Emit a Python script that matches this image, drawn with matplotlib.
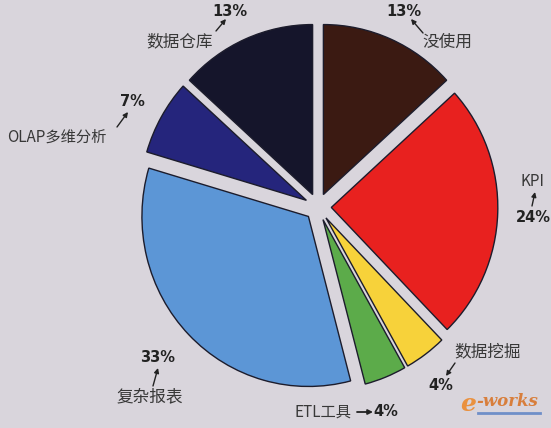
import matplotlib
matplotlib.use("Agg")
import matplotlib.pyplot as plt

plt.rcParams['font.family'] = ['Noto Sans CJK SC', 'DejaVu Sans']

# data
labels = ["没使用", "KPI", "数据挖掘", "ETL工具", "复杂报表", "OLAP多维分析", "数据仓库"]
shares = [13, 24, 4, 4, 33, 7, 13]
colors = ["#3b1a12", "#e8211f", "#f7d23a", "#5cab4a", "#5c96d6", "#25257c", "#15152b"]

W, H = 551, 428
cx, cy = 318, 207          # pie centre in pixels (from top-left)
sx, sy = 166.5, 170.0      # pixels per unit radius


def px(x, y):
    return (x - cx) / sx, (cy - y) / sy


fig = plt.figure(figsize=(W / 100, H / 100), dpi=100)
fig.patch.set_facecolor("#d9d5dc")
ax = fig.add_axes([0, 0, 1, 1])
ax.set_facecolor("#d9d5dc")

wedges, _ = ax.pie(shares, colors=colors, startangle=90, counterclock=False,
                   explode=[0.08] * len(shares),
                   wedgeprops=dict(edgecolor="#1c1c2c", linewidth=1.0))
ax.set_aspect("auto")
ax.set_xlim(-cx / sx, (W - cx) / sx)
ax.set_ylim(-(H - cy) / sy, cy / sy)
ax.axis("off")

tc = "#383838"
# (name text pos, pct text pos, arrow tail, arrow head) in pixels
layout = {
    "没使用": ((447, 42), (404, 12), (423, 33), (411, 19)),
    "KPI": ((533, 182), (533, 217), (532, 206), (535, 192)),
    "数据挖掘": ((488, 352), (441, 385), (455, 363), (446, 376)),
    "复杂报表": ((150, 397), (158, 357), (153, 386), (158, 368)),
    "OLAP多维分析": ((57, 137), (132, 102), (117, 127), (128, 112)),
    "数据仓库": ((180, 42), (230, 12), (216, 31), (226, 19)),
}

for name, val in zip(labels, shares):
    if name not in layout:
        continue
    tpos, ppos, tail, head = layout[name]
    fs = 11 if name in ("KPI", "OLAP多维分析") else 12
    ax.text(*px(*tpos), name, ha="center", va="center", fontsize=fs, color=tc)
    ax.text(*px(*ppos), f"{val}%", ha="center", va="center", fontsize=10.5,
            fontweight="bold", color="#222222", family="DejaVu Sans")
    ax.annotate("", xy=px(*head), xytext=px(*tail),
                arrowprops=dict(arrowstyle="-|>", color="#222222", lw=1.0,
                                mutation_scale=7, shrinkA=0, shrinkB=0))

# ETL label on one line with arrow
etl_val = shares[labels.index("ETL工具")]
ax.text(*px(295, 412), "ETL工具", ha="left", va="center", fontsize=11, color=tc)
ax.annotate("", xy=px(373, 412), xytext=px(357, 412),
            arrowprops=dict(arrowstyle="-|>", color="#222222", lw=1.3,
                            mutation_scale=7, shrinkA=0, shrinkB=0))
ax.text(*px(373, 412), f"{etl_val}%", ha="left", va="center", fontsize=10.5,
        fontweight="bold", color="#222222", family="DejaVu Sans")

# watermark
ax.text(*px(460, 404), "e", ha="left", va="center", fontsize=18, color="#ec8a2e",
        style="italic", fontweight="bold", family="DejaVu Serif", alpha=0.9)
ax.text(*px(476, 401), "-works", ha="left", va="center", fontsize=12, color="#d8752a",
        style="italic", fontweight="bold", family="DejaVu Serif", alpha=0.9)
ax.plot(*zip(px(478, 413), px(540, 413)), color="#6f8fc8", lw=2)

fig.savefig("out.png", dpi=100, facecolor=fig.get_facecolor())
